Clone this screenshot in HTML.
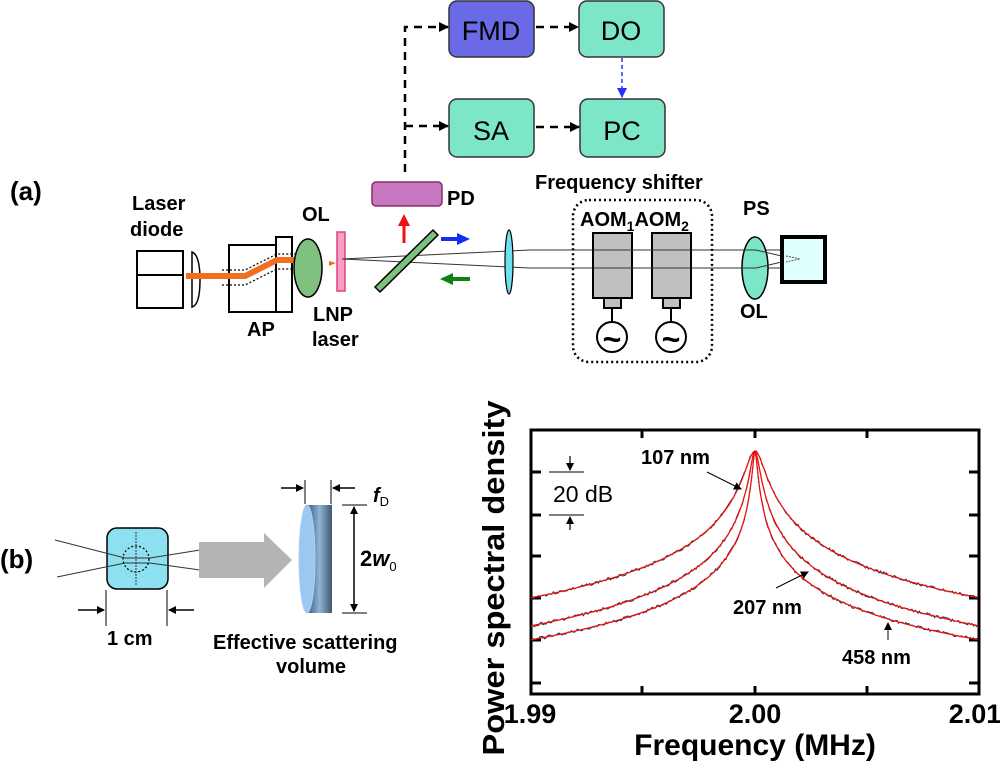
<!DOCTYPE html>
<html><head><meta charset="utf-8"><style>
html,body{margin:0;padding:0;background:#fff;}
svg{display:block;font-family:"Liberation Sans",Arial,sans-serif;}
.b{font-weight:bold;}
</style></head><body>
<svg id="s" width="1000" height="767" viewBox="0 0 1000 767" xmlns="http://www.w3.org/2000/svg">
<defs>
<marker id="ah" markerWidth="10" markerHeight="10" refX="9" refY="5" orient="auto" markerUnits="userSpaceOnUse"><path d="M0,0 L10,5 L0,10 z" fill="#000"/></marker>
<marker id="ahs" markerWidth="8" markerHeight="8" refX="7" refY="4" orient="auto-start-reverse" markerUnits="userSpaceOnUse"><path d="M0,0 L8,4 L0,8 z" fill="#000"/></marker>
<linearGradient id="disc" x1="0" x2="1"><stop offset="0" stop-color="#3e5670"/><stop offset="0.5" stop-color="#8fb4d6"/><stop offset="1" stop-color="#3e5670"/></linearGradient>
</defs>
<rect x="449" y="1" width="85" height="56" rx="8" fill="#6a6ae6" stroke="#333" stroke-width="1.5"/>
<text x="491" y="40" font-size="27" text-anchor="middle">FMD</text>
<rect x="579" y="1" width="85" height="56" rx="8" fill="#7de6c8" stroke="#333" stroke-width="1.5"/>
<text x="621" y="40" font-size="27" text-anchor="middle">DO</text>
<rect x="449" y="99" width="85" height="58" rx="8" fill="#7de6c8" stroke="#333" stroke-width="1.5"/>
<text x="491" y="140" font-size="27" text-anchor="middle">SA</text>
<rect x="580" y="99" width="85" height="58" rx="8" fill="#7de6c8" stroke="#333" stroke-width="1.5"/>
<text x="622" y="140" font-size="27" text-anchor="middle">PC</text>
<g stroke="#000" stroke-width="2.5" stroke-dasharray="8,6" fill="none">
<path d="M405,172 V27 H448" marker-end="url(#ah)"/>
<path d="M405,126 H448" marker-end="url(#ah)"/>
<path d="M536,27 H578" marker-end="url(#ah)"/>
<path d="M536,127 H579" marker-end="url(#ah)"/>
</g>
<path d="M622,58 V98" stroke="#2233ff" stroke-width="1.5" stroke-dasharray="4,3" fill="none"/>
<path d="M617,88 L627,88 L622,98 z" fill="#2233ff"/>
<text x="10" y="200" font-size="26" class="b">(a)</text>
<text x="132" y="210" font-size="20" class="b">Laser</text>
<text x="130" y="236" font-size="20" class="b">diode</text>
<rect x="137" y="251" width="46" height="57" fill="#fff" stroke="#000" stroke-width="2"/>
<line x1="137" y1="275" x2="183" y2="275" stroke="#000" stroke-width="2"/>
<path d="M192,252 Q200,255 200,280 Q200,305 192,307 z" fill="#fff" stroke="#000" stroke-width="1.5"/>
<rect x="229" y="245" width="61" height="67" fill="#fff" stroke="#000" stroke-width="2"/>
<rect x="276" y="237" width="16" height="75" fill="#fff" stroke="#000" stroke-width="2"/>
<path d="M186,276 H245 L277,260 H305" stroke="#f07020" stroke-width="6" fill="none"/>
<path d="M222,270 H245 L277,254 H298 M222,285 H245 L277,269 H298" stroke="#000" stroke-width="1.2" stroke-dasharray="2,2" fill="none"/>
<text x="247" y="336" font-size="20" class="b">AP</text>
<text x="302" y="221" font-size="20" class="b">OL</text>
<ellipse cx="308" cy="268" rx="14" ry="29" fill="#7fc07f" stroke="#000" stroke-width="1.5"/>
<path d="M329,261 L336,263 L329,266z" fill="#f07020"/>
<rect x="337" y="232" width="8" height="59" fill="#f6a0c8" stroke="#e0407a" stroke-width="1.5"/>
<text x="313" y="321" font-size="20" class="b">LNP</text>
<text x="312" y="346" font-size="20" class="b">laser</text>
<path d="M342,259 L530,250 H780 M342,259 L530,268 H780" stroke="#333" stroke-width="1" fill="none"/>
<polygon points="375,287 433,230 438,235 380,292" fill="#7fc07f" stroke="#000" stroke-width="1.5"/>
<rect x="372" y="182" width="70" height="24" rx="4" fill="#c878c0" stroke="#8a2c6a" stroke-width="1.5"/>
<text x="447" y="205" font-size="20" class="b">PD</text>
<path d="M404,243 V225" stroke="#f01010" stroke-width="3"/><path d="M398,226 L404,214 L410,226z" fill="#f01010"/>
<path d="M441,239 H458" stroke="#1030f0" stroke-width="4"/><path d="M457,233 L470,239 L457,245z" fill="#1030f0"/>
<path d="M470,279 H452" stroke="#108010" stroke-width="4"/><path d="M453,273 L440,279 L453,285z" fill="#108010"/>
<ellipse cx="509" cy="262" rx="4" ry="32" fill="#70e0f0" stroke="#000" stroke-width="1.2"/>
<text x="535" y="189" font-size="20" class="b">Frequency shifter</text>
<rect x="573" y="200" width="139" height="162" rx="16" fill="none" stroke="#000" stroke-width="2.5" stroke-dasharray="2,3"/>
<text x="580" y="226" font-size="20" class="b">AOM<tspan font-size="14" dy="5">1</tspan><tspan dy="-5">AOM</tspan><tspan font-size="14" dy="5">2</tspan></text>
<g stroke="#000" stroke-width="2" fill="#c0c0c0">
<rect x="593" y="233" width="39" height="65"/><rect x="604" y="298" width="17" height="10"/>
<rect x="652" y="233" width="39" height="65"/><rect x="663" y="298" width="17" height="10"/>
</g>
<path d="M593,250 H691 M593,268 H691" stroke="#333" stroke-width="1"/>
<g stroke="#000" stroke-width="2" fill="#fff">
<line x1="612" y1="308" x2="612" y2="322"/><line x1="671" y1="308" x2="671" y2="322"/>
<circle cx="612" cy="337" r="15"/><circle cx="671" cy="337" r="15"/>
</g>
<text x="612" y="350" font-size="32" text-anchor="middle" class="b">~</text>
<text x="671" y="350" font-size="32" text-anchor="middle" class="b">~</text>
<text x="743" y="215" font-size="20" class="b">PS</text>
<ellipse cx="755" cy="268" rx="13" ry="31" fill="#7de6c8" stroke="#000" stroke-width="1.5"/>
<path d="M742,250 H756 L790,258 M742,268 H756 L790,260" stroke="#333" stroke-width="1" fill="none"/>
<rect x="782" y="237" width="43" height="45" fill="#e0ffff" stroke="#000" stroke-width="4"/>
<path d="M786,256 L800,259 L786,262" stroke="#555" stroke-width="1" stroke-dasharray="2,1" fill="none"/>
<text x="740" y="318" font-size="20" class="b">OL</text>
<text x="0" y="568" font-size="26" class="b">(b)</text>
<rect x="107" y="528" width="61" height="61" rx="10" fill="#8de0f0" stroke="#000" stroke-width="1.5"/>
<path d="M55,540 L125,558 L150,558 L200,550 M57,577 L125,563 L150,563 L200,570" stroke="#333" stroke-width="1" fill="none"/>
<circle cx="136" cy="559" r="13" fill="none" stroke="#000" stroke-width="1.2" stroke-dasharray="2,2"/>
<line x1="136" y1="532" x2="136" y2="585" stroke="#333" stroke-width="1" stroke-dasharray="2,1"/>
<path d="M199,542 H264 V533 L292,560 L264,588 V578 H199 z" fill="#b4b4b4"/>
<line x1="106" y1="590" x2="106" y2="626" stroke="#000"/><line x1="167" y1="590" x2="167" y2="626" stroke="#000"/>
<path d="M78,610 H104" stroke="#000" stroke-width="1.5" marker-end="url(#ahs)"/>
<path d="M194,610 H169" stroke="#000" stroke-width="1.5" marker-end="url(#ahs)"/>
<text x="107" y="645" font-size="20" class="b">1 cm</text>
<rect x="307" y="505" width="25" height="108" fill="url(#disc)"/>
<ellipse cx="307" cy="559" rx="8" ry="54" fill="#9cc8f0" stroke="#a8d0ff" stroke-width="1"/>
<line x1="305" y1="480" x2="305" y2="504" stroke="#000"/><line x1="331" y1="480" x2="331" y2="504" stroke="#000"/>
<path d="M281,488 H303" stroke="#000" stroke-width="1.5" marker-end="url(#ahs)"/>
<path d="M355,488 H333" stroke="#000" stroke-width="1.5" marker-end="url(#ahs)"/>
<text x="373" y="502" font-size="20" class="b" font-style="italic">f<tspan font-size="13" dy="4" font-style="normal" font-weight="normal">D</tspan></text>
<line x1="342" y1="505" x2="367" y2="505" stroke="#000"/><line x1="342" y1="613" x2="367" y2="613" stroke="#000"/>
<path d="M354,507 V611" stroke="#000" stroke-width="1.5" marker-start="url(#ahs)" marker-end="url(#ahs)"/>
<text x="360" y="566" font-size="22" class="b">2<tspan font-style="italic">w</tspan><tspan font-size="13" dy="5" font-weight="normal">0</tspan></text>
<text x="213" y="649" font-size="20" class="b">Effective scattering</text>
<text x="276" y="673" font-size="20" class="b">volume</text>
<text transform="translate(504,578) rotate(-90)" font-size="31" class="b" text-anchor="middle" textLength="355" lengthAdjust="spacingAndGlyphs">Power spectral density</text>
<rect x="531" y="430" width="448" height="264" fill="none" stroke="#000" stroke-width="3"/>
<g stroke="#000" stroke-width="3">
<path d="M531,472 h10 M531,515 h10 M531,556 h10 M531,598 h10 M531,640 h10 M531,683 h10"/>
<path d="M979,472 h-10 M979,515 h-10 M979,556 h-10 M979,598 h-10 M979,640 h-10 M979,683 h-10"/>
<path d="M642,430 v8 M755,430 v8 M867,430 v8 M642,694 v-8 M755,694 v-8 M867,694 v-8"/>
</g>
<g id="curves" fill="none"></g>
<text x="530" y="723" font-size="27" class="b" text-anchor="middle">1.99</text>
<text x="755" y="723" font-size="27" class="b" text-anchor="middle">2.00</text>
<text x="975" y="723" font-size="27" class="b" text-anchor="middle">2.01</text>
<text x="755" y="755" font-size="30" class="b" text-anchor="middle">Frequency (MHz)</text>
<line x1="549" y1="472" x2="584" y2="472" stroke="#000"/><line x1="549" y1="515" x2="584" y2="515" stroke="#000"/>
<path d="M570,456 V470" stroke="#000" stroke-width="1.2" marker-end="url(#ahs)"/>
<path d="M570,530 V517" stroke="#000" stroke-width="1.2" marker-end="url(#ahs)"/>
<text x="553" y="502" font-size="23">20 dB</text>
<text x="641" y="464" font-size="20" class="b">107 nm</text>
<path d="M707,472 L741,489" stroke="#000" stroke-width="1" marker-end="url(#ahs)"/>
<text x="733" y="614" font-size="20" class="b">207 nm</text>
<path d="M776,588 L808,572" stroke="#000" stroke-width="1" marker-end="url(#ahs)"/>
<text x="842" y="664" font-size="20" class="b">458 nm</text>
<path d="M888,640 V623" stroke="#000" stroke-width="1" marker-end="url(#ahs)"/>
</svg>
<script>
(function(){
var g=document.getElementById('curves');
var specs=[[598,8],[626,4],[640,2]];
var seed=3;function rnd(){seed=(seed*9301+49297)%233280;return seed/233280-0.5;}
specs.forEach(function(s){
 var edge=s[0],gam=s[1],peak=451;
 var L=Math.log(1+Math.pow(225/gam,2));
 var A=(edge-peak)/L;
 var pr='',pb='';
 for(var x=531;x<=979;x+=1.5){
  var d=x-755; var y=peak+A*Math.log(1+Math.pow(d/gam,2));
  pr+=(pr?'L':'M')+x.toFixed(1)+','+y.toFixed(1);
  pb+=(pb?'L':'M')+x.toFixed(1)+','+(y+rnd()*3).toFixed(1);
 }
 var a=document.createElementNS('http://www.w3.org/2000/svg','path');
 a.setAttribute('d',pb);a.setAttribute('stroke','#333');a.setAttribute('stroke-width','1');g.appendChild(a);
 var b=document.createElementNS('http://www.w3.org/2000/svg','path');
 b.setAttribute('d',pr);b.setAttribute('stroke','#f01010');b.setAttribute('stroke-width','1.2');g.appendChild(b);
});
})();
</script>
</body></html>
